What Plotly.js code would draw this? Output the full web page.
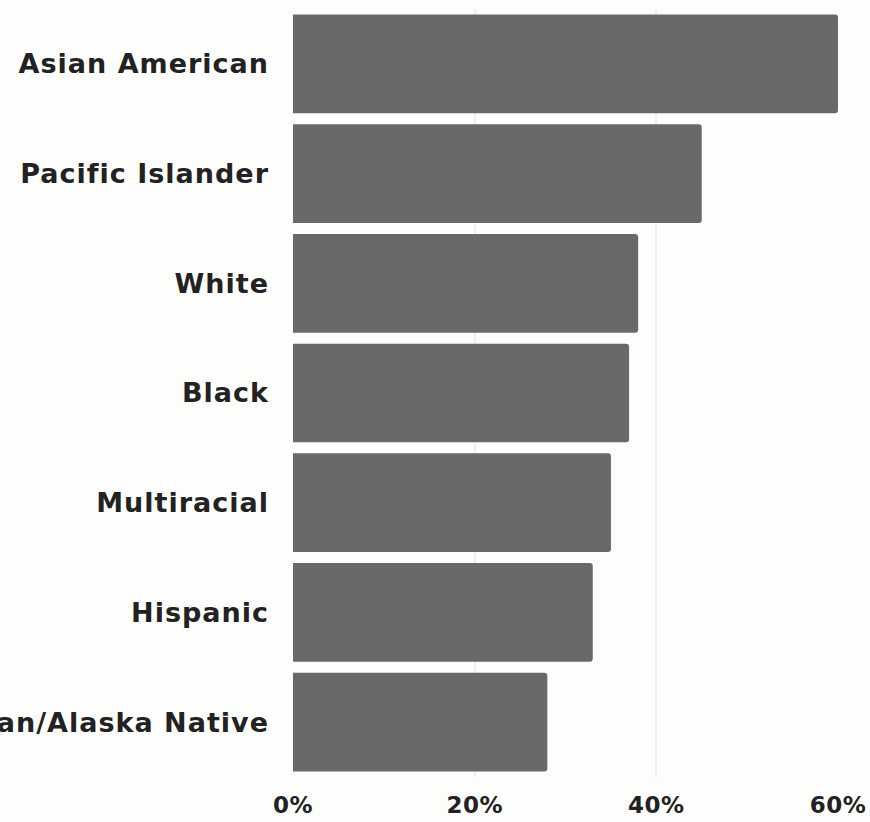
<!DOCTYPE html>
<html>
<head>
<meta charset="utf-8">
<script src="https://cdn.plot.ly/plotly-3.0.1.min.js"></script>
<style>
  html, body { margin: 0; padding: 0; background: #fdfdfb; }
  #chart { width: 870px; height: 822px; }
  #chart .ytick text { letter-spacing: 1px; }
  #chart .xtick text { letter-spacing: 0.5px; }
</style>
</head>
<body>
<div id="chart"></div>
<script>
const categories = [
  "Asian American",
  "Pacific Islander",
  "White",
  "Black",
  "Multiracial",
  "Hispanic",
  "American Indian/Alaska Native"
];
const values = [60, 45, 38, 37, 35, 33, 28];
const tickValues = [0, 20, 40, 60];
const tickLabels = ["0%", "20%", "40%", "60%"];

const trace = {
  type: "bar",
  orientation: "h",
  y: categories,
  x: values,
  marker: { color: "#6a686a", cornerradius: 3, line: { width: 0 } },
  hoverinfo: "none"
};

const layout = {
  width: 870,
  height: 822,
  margin: { l: 293, r: 32, t: 9, b: 45 },
  paper_bgcolor: "#fdfdfb",
  plot_bgcolor: "#fdfdfb",
  bargap: 0.1,
  showlegend: false,
  font: { family: "DejaVu Sans, sans-serif", color: "#222222" },
  xaxis: {
    range: [0, 60],
    tickvals: tickValues,
    ticktext: tickLabels,
    showgrid: true,
    gridcolor: "#efefed",
    gridwidth: 2,
    zeroline: false,
    showline: false,
    ticks: "",
    ticklabelstandoff: 12,
    tickfont: { size: 23, family: "DejaVu Sans, sans-serif", weight: "bold", color: "#222222" },
    fixedrange: true
  },
  yaxis: {
    autorange: "reversed",
    type: "category",
    showgrid: false,
    zeroline: false,
    showline: false,
    ticks: "",
    ticklabelstandoff: 23,
    tickfont: { size: 27, family: "DejaVu Sans, sans-serif", weight: "bold", color: "#222222" },
    automargin: false,
    fixedrange: true
  }
};

Plotly.newPlot("chart", [trace], layout, { displayModeBar: false, staticPlot: true });
</script>
</body>
</html>
